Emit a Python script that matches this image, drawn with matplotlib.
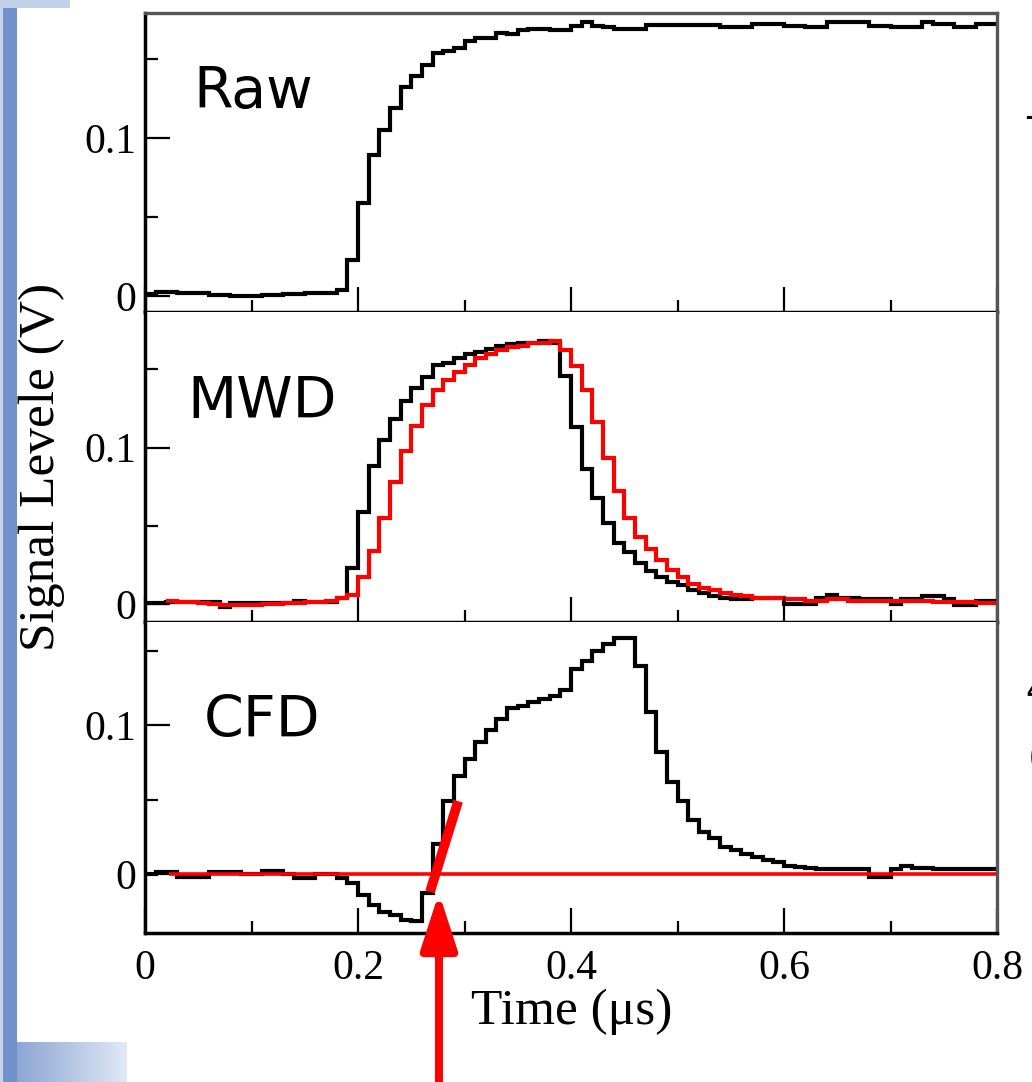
import numpy as np
import matplotlib
matplotlib.use("Agg")
import matplotlib.pyplot as plt

# Raw / MWD / CFD digitised pulses, 10 ns bins from 0 to 0.8 us
t_edges = np.round(np.arange(81) * 0.01, 2)

raw_level = [
    0.0015, 0.0025, 0.0025, 0.0017, 0.0017, 0.0017, 0.0006, 0.0006, 0.0003, 0.0,
    0.0, 0.0008, 0.0008, 0.0013, 0.0013, 0.002, 0.002, 0.002, 0.004, 0.023,
    0.059, 0.089, 0.105, 0.119, 0.132, 0.139, 0.146, 0.154, 0.155, 0.157,
    0.161, 0.163, 0.163, 0.1665, 0.166, 0.168, 0.169, 0.169, 0.168, 0.168,
    0.171, 0.173, 0.171, 0.170, 0.169, 0.169, 0.169, 0.1715, 0.1715, 0.1715,
    0.1715, 0.1715, 0.1715, 0.1715, 0.170, 0.170, 0.170, 0.172, 0.172, 0.172,
    0.171, 0.171, 0.170, 0.170, 0.173, 0.173, 0.173, 0.173, 0.171, 0.171,
    0.170, 0.170, 0.170, 0.1735, 0.172, 0.172, 0.170, 0.170, 0.172, 0.172,
]

mwd_black = [
    0.0006, 0.0006, 0.001, 0.001, 0.001, 0.001, 0.001, -0.002, 0.0004, 0.0004,
    0.0004, 0.0004, 0.0004, 0.0004, 0.002, 0.001, 0.001, 0.001, 0.004, 0.023,
    0.059, 0.088, 0.105, 0.118, 0.130, 0.138, 0.145, 0.153, 0.154, 0.157,
    0.160, 0.161, 0.163, 0.165, 0.166, 0.167, 0.167, 0.168, 0.167, 0.146,
    0.113, 0.086, 0.068, 0.052, 0.039, 0.033, 0.026, 0.021, 0.017, 0.014,
    0.012, 0.009, 0.007, 0.005, 0.004, 0.003, 0.003, 0.004, 0.004, 0.004,
    0.0, 0.0, 0.0, 0.004, 0.006, 0.004, 0.004, 0.003, 0.003, 0.003,
    0.0, 0.003, 0.003, 0.005, 0.005, 0.003, -0.0006, -0.0006, 0.002, 0.002,
]

# red MWD trace starts at 0.02 us
mwd_red_edges = t_edges[2:]
mwd_red = [
    0.002, 0.0015, 0.001, 0.0005, 0.0, -0.0005, -0.0006, -0.0006,
    -0.0006, 0.0, 0.0, 0.0004, 0.0004, 0.001, 0.001, 0.002, 0.004, 0.006,
    0.017, 0.034, 0.055, 0.078, 0.098, 0.114, 0.127, 0.137, 0.143, 0.148,
    0.153, 0.157, 0.160, 0.162, 0.164, 0.165, 0.167, 0.167, 0.168, 0.162,
    0.152, 0.137, 0.116, 0.093, 0.072, 0.055, 0.043, 0.035, 0.028, 0.022,
    0.017, 0.013, 0.010, 0.009, 0.007, 0.006, 0.005, 0.004, 0.004, 0.004,
    0.003, 0.003, 0.002, 0.002, 0.003, 0.003, 0.002, 0.002, 0.002, 0.002,
    0.002, 0.002, 0.002, 0.002, 0.0015, 0.0015, 0.001, 0.001, 0.0005, 0.0005,
]

cfd_black = [
    0.0, 0.001, 0.001, -0.002, -0.002, -0.002, 0.0015, 0.0015, 0.0015, 0.0,
    0.0, 0.002, 0.002, 0.0, -0.003, -0.003, 0.0, 0.0, -0.003, -0.006,
    -0.014, -0.021, -0.026, -0.028, -0.031, -0.032, -0.013, 0.020, 0.049, 0.066,
    0.077, 0.089, 0.097, 0.104, 0.112, 0.113, 0.116, 0.118, 0.120, 0.124,
    0.138, 0.143, 0.150, 0.155, 0.159, 0.159, 0.140, 0.109, 0.082, 0.062,
    0.049, 0.036, 0.028, 0.024, 0.018, 0.016, 0.013, 0.011, 0.009, 0.0077,
    0.0054, 0.0047, 0.004, 0.0034, 0.003, 0.003, 0.003, 0.003, -0.002, -0.002,
    0.003, 0.005, 0.004, 0.004, 0.003, 0.003, 0.003, 0.003, 0.003, 0.003,
]

cfd_zero_start = 0.023
cfd_fit_t = [0.2676, 0.294]
cfd_fit_v = [-0.0122, 0.0489]
zero_cross_t = 0.276
zero_cross_v = -0.0128

W, H = 1032, 1082
plt.rcParams["font.family"] = ["Liberation Serif", "DejaVu Serif"]
fig = plt.figure(figsize=(W / 100, H / 100), dpi=100)

# slide background bits on the left edge
strip = np.zeros((H, 17, 3))
strip[:, :, :] = np.array([0.44, 0.57, 0.79])
strip[:, :3, :] = np.array([0.78, 0.83, 0.92])
fig.figimage(strip, xo=0, yo=0, origin="upper")
top_bar = np.ones((8, 70, 3)) * np.array([0.76, 0.82, 0.92])
fig.figimage(top_bar, xo=0, yo=H - 8, origin="upper")
grad = np.linspace(0, 1, 110)[None, :, None]
c0 = np.array([0.55, 0.65, 0.83])
c1 = np.array([0.88, 0.91, 0.96])
block = np.repeat(c0 + (c1 - c0) * grad, 40, axis=0)
fig.figimage(block, xo=17, yo=0, origin="upper")


def px_axes(top, bottom):
    return [145 / W, 1 - bottom / H, (997 - 145) / W, (bottom - top) / H]


ax1 = fig.add_axes(px_axes(13, 312))
ax2 = fig.add_axes(px_axes(312, 622))
ax3 = fig.add_axes(px_axes(622, 933))

ax1.stairs(raw_level, t_edges, color="black", lw=3.0, baseline=None)
ax2.stairs(mwd_black, t_edges, color="black", lw=3.0, baseline=None)
ax2.stairs(mwd_red, mwd_red_edges, color="red", lw=3.0, baseline=None)
ax3.stairs(cfd_black, t_edges, color="black", lw=3.0, baseline=None)
ax3.hlines(0, cfd_zero_start, 0.8, color="red", lw=2.6)
ax3.plot(cfd_fit_t, cfd_fit_v, color="red", lw=7, solid_capstyle="butt")

ax3.annotate("", xy=(zero_cross_t, zero_cross_v), xytext=(zero_cross_t, 0.0),
             xycoords="data", textcoords=("data", "figure fraction"),
             arrowprops=dict(arrowstyle="-|>,head_length=3.4,head_width=1.1",
                             color="red", lw=5.8, shrinkA=0, shrinkB=0,
                             mutation_scale=10),
             annotation_clip=False)

ylims = [(-0.0101, 0.179), (-0.0115, 0.1866), (-0.0399, 0.1696)]
for ax, yl in zip([ax1, ax2, ax3], ylims):
    ax.set_xlim(0, 0.8)
    ax.set_ylim(*yl)
    ax.set_xticks([0, 0.2, 0.4, 0.6, 0.8])
    ax.set_xticks([0.1, 0.3, 0.5, 0.7], minor=True)
    ax.set_yticks([0, 0.1])
    ax.set_yticks([0.05, 0.15], minor=True)
    ax.set_yticklabels(["0", "0.1"])
    ax.tick_params(which="both", direction="in", top=False, right=False,
                   width=1.6, labelsize=30)
    ax.tick_params(which="major", length=18)
    ax.tick_params(which="minor", length=9)
    ax.tick_params(axis="y", pad=6)
    for s in ["left", "bottom"]:
        ax.spines[s].set_linewidth(2.5)
        ax.spines[s].set_color("black")
    ax.spines["right"].set_linewidth(2.4)
    ax.spines["right"].set_color("#555555")
    ax.spines["top"].set_linewidth(2.4)
    ax.spines["top"].set_color("#555555")

ax2.spines["top"].set_visible(False)
ax3.spines["top"].set_visible(False)
ax1.tick_params(labelbottom=False)
ax2.tick_params(labelbottom=False)
ax3.set_xticklabels(["0", "0.2", "0.4", "0.6", "0.8"])
ax3.tick_params(axis="x", pad=12)

ax1.text(0.045, 0.119, "Raw", family="DejaVu Sans", fontsize=41)
ax2.text(0.0395, 0.1189, "MWD", family="DejaVu Sans", fontsize=41)
ax3.text(0.0555, 0.0919, "CFD", family="DejaVu Sans", fontsize=41)

fig.text(42 / W, 1 - 467 / H, "Signal Levele (V)", rotation=90,
         ha="center", va="center", fontsize=37)
fig.text(572 / W, 1 - 1012 / H, "Time (μs)", ha="center", va="center",
         fontsize=37)

# cut-off slide text at the right edge
fig.text(1026 / W, 1 - 145 / H, "T", family="DejaVu Sans", fontsize=28)
fig.text(1025 / W, 1 - 702 / H, "4", family="DejaVu Sans", fontsize=25)
fig.text(1028 / W, 1 - 768 / H, "(", family="DejaVu Sans", fontsize=25,
         color="#1f3fd0")

fig.savefig("out.png", dpi=100)
